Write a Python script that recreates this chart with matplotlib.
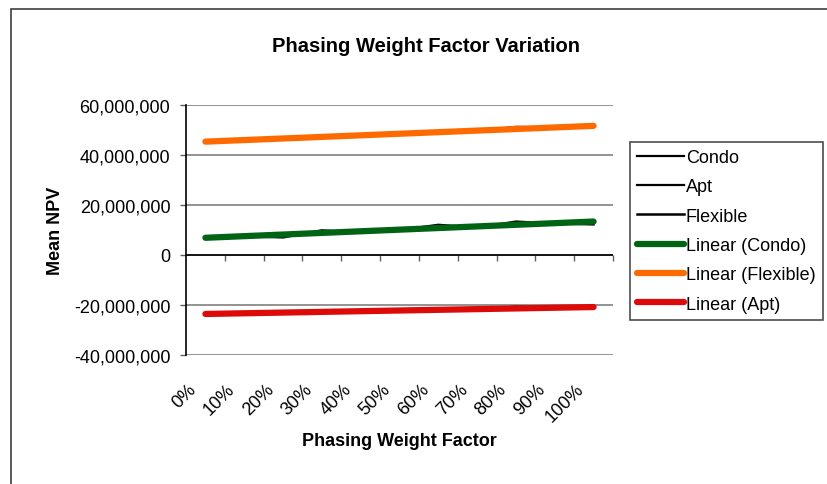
import numpy as np
import matplotlib.pyplot as plt
import matplotlib.transforms as mtransforms
from matplotlib.patches import Rectangle

plt.rcParams['font.family'] = ['Liberation Sans', 'DejaVu Sans']

# ==============================
# Data (millions)
# ==============================
categories = ['0%', '10%', '20%', '30%', '40%', '50%', '60%', '70%', '80%', '90%', '100%']
condo = [6.9, 7.5, 7.0, 9.9, 8.9, 10.0, 12.1, 11.0, 13.4, 12.6, 12.2]
apt = [-23.6, -23.3, -23.0, -22.8, -22.5, -22.3, -22.0, -21.8, -20.6, -21.1, -21.2]
flexible = [45.4, 46.0, 46.6, 47.2, 47.8, 48.4, 49.0, 49.6, 51.2, 50.9, 51.4]
y_ticks = [-40, -20, 0, 20, 40, 60]

green = '#006414'
orange = '#FF6A00'
red = '#DD0A0A'

fig = plt.figure(figsize=(8.27, 4.85), dpi=100)
ax = fig.add_axes([186/827, 1-356/485, 427/827, 250/485])

x = np.arange(len(categories))

# raw series (thin black)
ax.plot(x, condo, color='black', lw=1.6, label='Condo')
ax.plot(x, apt, color='black', lw=1.6, label='Apt')
ax.plot(x, flexible, color='black', lw=1.8, label='Flexible')

# linear trendlines
def trend(vals):
    k, b = np.polyfit(x, vals, 1)
    return k * x + b

ax.plot(x, trend(condo), color=green, lw=4.5, solid_capstyle='round', label='Linear (Condo)')
ax.plot(x, trend(flexible), color=orange, lw=4.5, solid_capstyle='round', label='Linear (Flexible)')
ax.plot(x, trend(apt), color=red, lw=4.5, solid_capstyle='round', label='Linear (Apt)')

ax.set_xlim(-0.5, len(categories) - 0.5)
ax.set_ylim(-40, 60)
ax.set_yticks(y_ticks)
ax.set_yticklabels([f'{v*1000000:,.0f}' for v in y_ticks], fontsize=13)
ax.grid(axis='y', color='#808080', lw=1.2)
ax.axhline(0, color='black', lw=1.2)
ax.set_axisbelow(True)

for s in ['top', 'right', 'bottom']:
    ax.spines[s].set_visible(False)
ax.spines['left'].set_color('black')
ax.spines['left'].set_linewidth(1.2)
ax.tick_params(axis='y', length=4.3, width=1, color='#606060', pad=7)

ax.set_xticks(x)
ax.set_xticklabels(categories, fontsize=13, rotation=45, ha='right', va='top')
ax.tick_params(axis='x', length=0, pad=18)
offset = mtransforms.ScaledTranslation(-6/100, 0, fig.dpi_scale_trans)
for lbl in ax.get_xticklabels():
    lbl.set_transform(lbl.get_transform() + offset)

# category boundary ticks along the zero line
sec = ax.secondary_xaxis(0.4)
sec.set_xticks(np.arange(0.5, len(categories), 1.0))
sec.set_xticklabels([])
sec.tick_params(axis='x', length=4.3, width=1, color='#606060', direction='out')
sec.spines['bottom'].set_visible(False)

# titles
fig.text(426/827, 1-47/485, 'Phasing Weight Factor Variation', ha='center', va='center',
         fontsize=14.5, fontweight='bold')
fig.text(399/827, 1-442/485, 'Phasing Weight Factor', ha='center', va='center',
         fontsize=13, fontweight='bold')
fig.text(55/827, 1-231/485, 'Mean NPV', ha='center', va='center', rotation=90,
         fontsize=13, fontweight='bold')

# legend
leg = fig.legend(loc='upper left', bbox_to_anchor=(630/827, 1-143/485), fontsize=13,
                 frameon=True, fancybox=False, handlelength=2.6, handletextpad=0.1,
                 labelspacing=0.68, borderpad=0.4, borderaxespad=0)
leg.get_frame().set_edgecolor('#202020')
leg.get_frame().set_linewidth(1.2)

# chart area frame
fig.patches.append(Rectangle((11/827, -0.2), 1.2, 1.2 - 10/485, transform=fig.transFigure,
                             fill=False, edgecolor='#404040', lw=1.2))

fig.savefig('out.png', dpi=100)
